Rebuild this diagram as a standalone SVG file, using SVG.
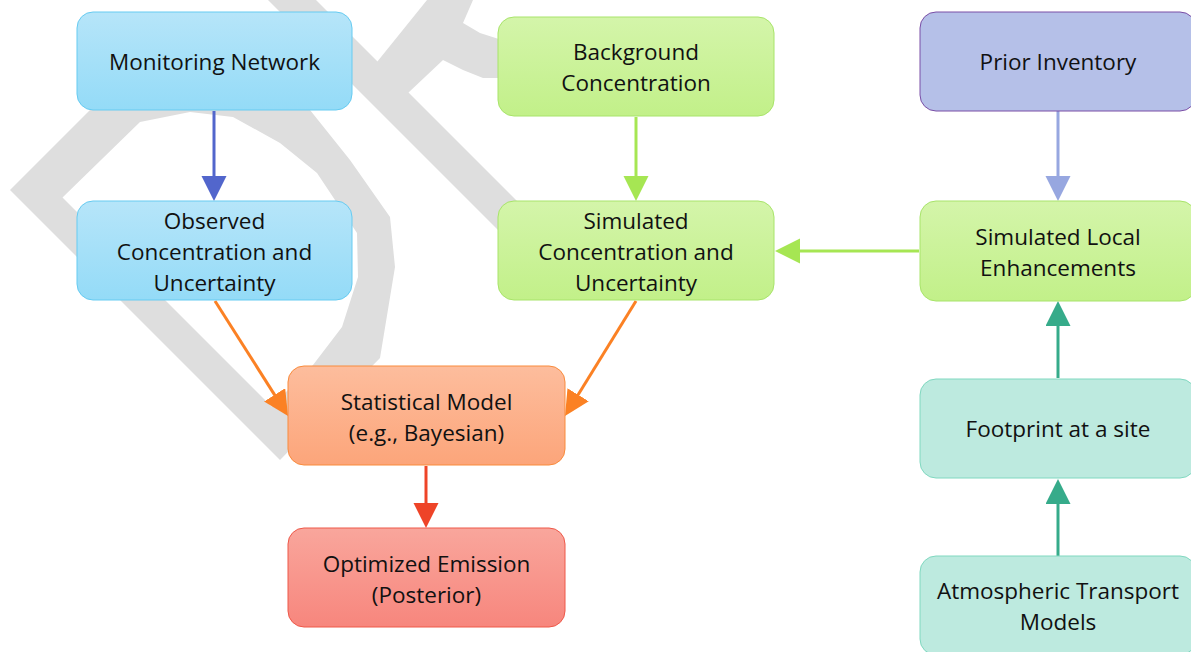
<svg xmlns="http://www.w3.org/2000/svg" width="1191" height="652" viewBox="0 0 1191 652">
<style>
  .node text { font-family: "Open Sans", "Liberation Sans", sans-serif; font-size: 22.5px; fill: #111; text-anchor: middle; }
  .wm { fill: #dedede; stroke: none; }
  .conn line { stroke-width: 3; fill: none; }
</style>
<defs>
  <linearGradient id="gBlue" x1="0" y1="0" x2="0" y2="1"><stop offset="0" stop-color="#b6e5f9"/><stop offset="1" stop-color="#94dbf7"/></linearGradient>
  <linearGradient id="gGreen" x1="0" y1="0" x2="0" y2="1"><stop offset="0" stop-color="#d4f5aa"/><stop offset="1" stop-color="#c2f089"/></linearGradient>
  <linearGradient id="gOrange" x1="0" y1="0" x2="0" y2="1"><stop offset="0" stop-color="#fdbd9d"/><stop offset="1" stop-color="#fca57a"/></linearGradient>
  <linearGradient id="gRed" x1="0" y1="0" x2="0" y2="1"><stop offset="0" stop-color="#f9a69c"/><stop offset="1" stop-color="#f7867d"/></linearGradient>
  <marker id="mBlue" markerUnits="userSpaceOnUse" viewBox="0 0 26 26" markerWidth="26" markerHeight="26" refX="5" refY="12.5" orient="auto"><path d="M0,0 L25,12.5 L0,25 Z" fill="#5266cc"/></marker>
  <marker id="mGreen" markerUnits="userSpaceOnUse" viewBox="0 0 26 26" markerWidth="26" markerHeight="26" refX="5" refY="12.5" orient="auto"><path d="M0,0 L25,12.5 L0,25 Z" fill="#a6e653"/></marker>
  <marker id="mLav" markerUnits="userSpaceOnUse" viewBox="0 0 26 26" markerWidth="26" markerHeight="26" refX="5" refY="12.5" orient="auto"><path d="M0,0 L25,12.5 L0,25 Z" fill="#97a7e0"/></marker>
  <marker id="mTeal" markerUnits="userSpaceOnUse" viewBox="0 0 26 26" markerWidth="26" markerHeight="26" refX="5" refY="12.5" orient="auto"><path d="M0,0 L25,12.5 L0,25 Z" fill="#36ab8a"/></marker>
  <marker id="mOrange" markerUnits="userSpaceOnUse" viewBox="0 0 26 26" markerWidth="26" markerHeight="26" refX="5" refY="12.5" orient="auto"><path d="M0,0 L25,12.5 L0,25 Z" fill="#fb8124"/></marker>
  <marker id="mRed" markerUnits="userSpaceOnUse" viewBox="0 0 26 26" markerWidth="26" markerHeight="26" refX="5" refY="12.5" orient="auto"><path d="M0,0 L25,12.5 L0,25 Z" fill="#ee4428"/></marker>
</defs>
<rect x="0" y="0" width="1191" height="652" fill="#ffffff"/>

<g id="watermark">
  <path class="wm" fill-rule="evenodd" d="M110,90 L88,112 L10,190 L280,460 L380,358 L395,267 L390,217 L350,160 L310,110 L310,90 Z M62.5,197.5 L271.5,406.5 L313,365 L342,327 L358,277 L357,233 L317,173 L280,143 L233,117 L190,112 L140,122 Z"/>
  <path class="wm" d="M268,0 L316,0 L525,209 L525,257 Z"/>
  <path class="wm" d="M427,0 L473,0 L463,23 L480,33 L505,41 L505,78 L483,78 L463,70 L443,60 L408,93 L377,62 Z"/>
</g>

<g id="connectors" class="conn">
  <line x1="214" y1="111" x2="214" y2="181" stroke="#5266cc" marker-end="url(#mBlue)"/>
  <line x1="636" y1="117" x2="636" y2="181" stroke="#a6e653" marker-end="url(#mGreen)"/>
  <line x1="1058" y1="111" x2="1058" y2="181" stroke="#97a7e0" marker-end="url(#mLav)"/>
  <line x1="919" y1="251" x2="795" y2="251" stroke="#a6e653" marker-end="url(#mGreen)"/>
  <line x1="1058" y1="378" x2="1058" y2="321" stroke="#36ab8a" marker-end="url(#mTeal)"/>
  <line x1="1058" y1="556" x2="1058" y2="499" stroke="#36ab8a" marker-end="url(#mTeal)"/>
  <line x1="215" y1="301" x2="277.3" y2="399.1" stroke="#fb8124" marker-end="url(#mOrange)"/>
  <line x1="636" y1="301" x2="575.5" y2="399" stroke="#fb8124" marker-end="url(#mOrange)"/>
  <line x1="426" y1="466" x2="426" y2="508" stroke="#ee4428" marker-end="url(#mRed)"/>
</g>

<g id="monitoring" class="node">
  <rect x="77" y="12" width="275" height="98" rx="16" fill="url(#gBlue)" stroke="#66cbf1" stroke-width="1"/>
  <text x="214.5" y="70">Monitoring Network</text>
</g>
<g id="observed" class="node">
  <rect x="77" y="201" width="275" height="99" rx="16" fill="url(#gBlue)" stroke="#66cbf1" stroke-width="1"/>
  <text x="214.5" y="229">Observed</text>
  <text x="214.5" y="260">Concentration and</text>
  <text x="214.5" y="291">Uncertainty</text>
</g>
<g id="background" class="node">
  <rect x="498" y="17" width="276" height="99" rx="16" fill="url(#gGreen)" stroke="#a8e46a" stroke-width="1"/>
  <text x="636" y="60">Background</text>
  <text x="636" y="91">Concentration</text>
</g>
<g id="simulated" class="node">
  <rect x="498" y="201" width="276" height="99" rx="16" fill="url(#gGreen)" stroke="#a8e46a" stroke-width="1"/>
  <text x="636" y="229">Simulated</text>
  <text x="636" y="260">Concentration and</text>
  <text x="636" y="291">Uncertainty</text>
</g>
<g id="prior" class="node">
  <rect x="920" y="12" width="276" height="99" rx="16" fill="#b5c0e8" stroke="#7a4ea6" stroke-width="1"/>
  <text x="1058" y="70">Prior Inventory</text>
</g>
<g id="simlocal" class="node">
  <rect x="920" y="201" width="276" height="100" rx="16" fill="url(#gGreen)" stroke="#a8e46a" stroke-width="1"/>
  <text x="1058" y="245">Simulated Local</text>
  <text x="1058" y="276">Enhancements</text>
</g>
<g id="footprint" class="node">
  <rect x="920" y="379" width="276" height="99" rx="16" fill="#bdeadf" stroke="#80d8c0" stroke-width="1"/>
  <text x="1058" y="437">Footprint at a site</text>
</g>
<g id="atmospheric" class="node">
  <rect x="920" y="556" width="276" height="99" rx="16" fill="#bdeadf" stroke="#80d8c0" stroke-width="1"/>
  <text x="1058" y="599">Atmospheric Transport</text>
  <text x="1058" y="630">Models</text>
</g>
<g id="statistical" class="node">
  <rect x="288" y="366" width="277" height="99" rx="16" fill="url(#gOrange)" stroke="#f98b3c" stroke-width="1"/>
  <text x="426.5" y="410">Statistical Model</text>
  <text x="426.5" y="441">(e.g., Bayesian)</text>
</g>
<g id="optimized" class="node">
  <rect x="288" y="528" width="277" height="99" rx="16" fill="url(#gRed)" stroke="#ee5849" stroke-width="1"/>
  <text x="426.5" y="572">Optimized Emission</text>
  <text x="426.5" y="603">(Posterior)</text>
</g>
</svg>
